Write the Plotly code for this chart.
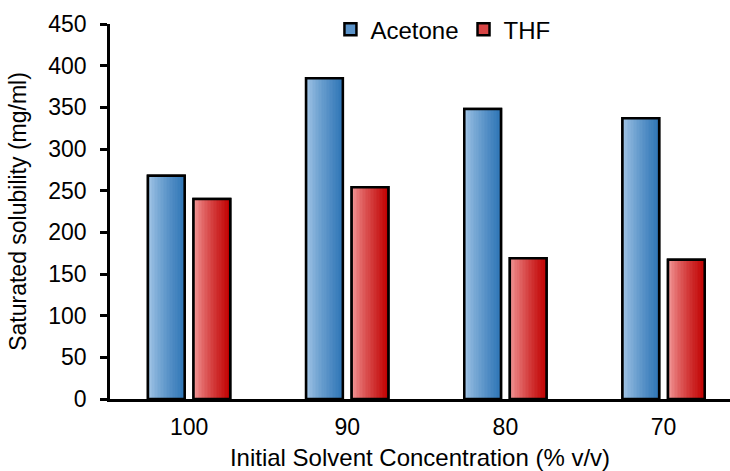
import plotly.graph_objects as go

# Data
concentrations = ["100", "90", "80", "70"]
acetone = [268, 385, 348, 337]
thf = [240, 254, 169, 167]

series_names = ["Acetone", "THF"]
series_values = [acetone, thf]
# (light, dark, legend/mid) colours for the horizontal gradient of each series
series_colors = [
    ((172, 204, 234), (46, 117, 182), "#5b93c9"),
    ((246, 164, 164), (192, 0, 0), "#d84545"),
]

BAR_W = 0.232
OFFSETS = [-0.260, 0.028]
N_SLICES = 24
FONT = "Liberation Sans, Arial, sans-serif"
FS = 23


def mix(c1, c2, t):
    return "rgb({},{},{})".format(*[round(a + (b - a) * t) for a, b in zip(c1, c2)])


fig = go.Figure()

for name, vals, (light, dark, mid), off in zip(series_names, series_values, series_colors, OFFSETS):
    # base bar: carries the legend entry and the outline
    fig.add_trace(go.Bar(
        x=concentrations, y=vals, name=name, offset=off, width=BAR_W,
        marker=dict(color=mid, line=dict(color="black", width=2.5)),
        showlegend=True, hoverinfo="skip",
    ))
    # gradient fill built from thin slices of the same bar
    sw = BAR_W / N_SLICES
    for k in range(N_SLICES):
        t = (k + 0.5) / N_SLICES
        fig.add_trace(go.Bar(
            x=concentrations, y=vals, offset=off + k * sw, width=sw * 1.05,
            marker=dict(color=mix(light, dark, t ** 0.75), line=dict(width=0)),
            showlegend=False, hoverinfo="skip",
        ))
    # outline on top
    fig.add_trace(go.Bar(
        x=concentrations, y=vals, offset=off, width=BAR_W,
        marker=dict(color="rgba(0,0,0,0)", line=dict(color="black", width=2.5)),
        showlegend=False, hoverinfo="skip",
    ))

fig.update_layout(
    width=730, height=471,
    margin=dict(l=110, r=0, t=24, b=72),
    paper_bgcolor="white", plot_bgcolor="white",
    barmode="overlay",
    font=dict(family=FONT, size=FS, color="black"),
    legend=dict(
        orientation="h", x=0.537, y=1.045, xanchor="center", yanchor="top",
        font=dict(size=24), itemwidth=30, traceorder="normal",
        bgcolor="rgba(0,0,0,0)",
    ),
    xaxis=dict(
        type="category", range=[-0.5, 3.42],
        showline=True, linecolor="black", linewidth=2.5,
        ticks="", showgrid=False, zeroline=False,
        ticklabelstandoff=6,
        title=dict(text="Initial Solvent Concentration (% v/v)", standoff=10,
                   font=dict(size=24)),
    ),
    yaxis=dict(
        range=[0, 450], dtick=50, tick0=0,
        showline=True, linecolor="black", linewidth=2.5,
        ticks="outside", ticklen=7, tickwidth=2.5, tickcolor="black",
        showgrid=False, zeroline=False,
        ticklabelstandoff=9,
        title=dict(text="Saturated solubility (mg/ml)", standoff=16,
                   font=dict(size=FS)),
    ),
)

fig.write_html("out.html")
